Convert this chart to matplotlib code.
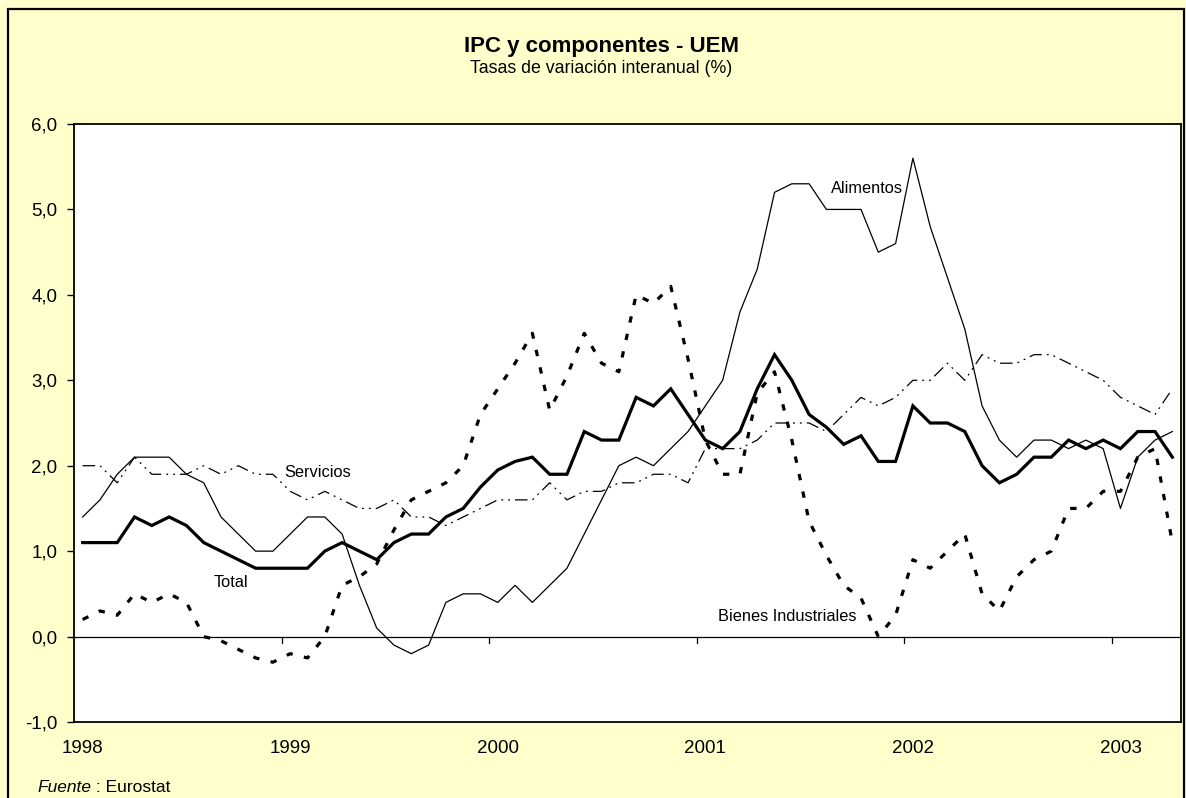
import numpy as np
import matplotlib
matplotlib.use("Agg")
import matplotlib.pyplot as plt
from matplotlib.patches import Rectangle

plt.rcParams['font.family'] = ['Liberation Sans', 'DejaVu Sans']

# datos mensuales, ene-1998 a abr-2003
years = ["1998", "1999", "2000", "2001", "2002", "2003"]

total = [1.1, 1.1, 1.1, 1.4, 1.3, 1.4, 1.3, 1.1, 1.0, 0.9, 0.8, 0.8,
         0.8, 0.8, 1.0, 1.1, 1.0, 0.9, 1.1, 1.2, 1.2, 1.4, 1.5, 1.75,
         1.95, 2.05, 2.1, 1.9, 1.9, 2.4, 2.3, 2.3, 2.8, 2.7, 2.9, 2.6,
         2.3, 2.2, 2.4, 2.9, 3.3, 3.0, 2.6, 2.45, 2.25, 2.35, 2.05, 2.05,
         2.7, 2.5, 2.5, 2.4, 2.0, 1.8, 1.9, 2.1, 2.1, 2.3, 2.2, 2.3,
         2.2, 2.4, 2.4, 2.1]

alimentos = [1.4, 1.6, 1.9, 2.1, 2.1, 2.1, 1.9, 1.8, 1.4, 1.2, 1.0, 1.0,
             1.2, 1.4, 1.4, 1.2, 0.6, 0.1, -0.1, -0.2, -0.1, 0.4, 0.5, 0.5,
             0.4, 0.6, 0.4, 0.6, 0.8, 1.2, 1.6, 2.0, 2.1, 2.0, 2.2, 2.4,
             2.7, 3.0, 3.8, 4.3, 5.2, 5.3, 5.3, 5.0, 5.0, 5.0, 4.5, 4.6,
             5.6, 4.8, 4.2, 3.6, 2.7, 2.3, 2.1, 2.3, 2.3, 2.2, 2.3, 2.2,
             1.5, 2.1, 2.3, 2.4]

servicios = [2.0, 2.0, 1.8, 2.1, 1.9, 1.9, 1.9, 2.0, 1.9, 2.0, 1.9, 1.9,
             1.7, 1.6, 1.7, 1.6, 1.5, 1.5, 1.6, 1.4, 1.4, 1.3, 1.4, 1.5,
             1.6, 1.6, 1.6, 1.8, 1.6, 1.7, 1.7, 1.8, 1.8, 1.9, 1.9, 1.8,
             2.2, 2.2, 2.2, 2.3, 2.5, 2.5, 2.5, 2.4, 2.6, 2.8, 2.7, 2.8,
             3.0, 3.0, 3.2, 3.0, 3.3, 3.2, 3.2, 3.3, 3.3, 3.2, 3.1, 3.0,
             2.8, 2.7, 2.6, 2.9]

bienes = [0.2, 0.3, 0.25, 0.5, 0.4, 0.5, 0.4, 0.0, -0.05, -0.15, -0.25, -0.3,
          -0.2, -0.25, 0.0, 0.6, 0.7, 0.85, 1.25, 1.6, 1.7, 1.8, 2.0, 2.6,
          2.9, 3.2, 3.55, 2.65, 3.05, 3.55, 3.2, 3.1, 4.0, 3.9, 4.1, 3.25,
          2.3, 1.9, 1.9, 2.85, 3.1, 2.3, 1.35, 0.95, 0.6, 0.45, 0.0, 0.25,
          0.9, 0.8, 1.0, 1.2, 0.5, 0.3, 0.7, 0.9, 1.0, 1.5, 1.5, 1.7,
          1.7, 2.1, 2.2, 1.1]

W, H = 1186, 798
fig = plt.figure(figsize=(W / 100, H / 100), dpi=100)
fig.patch.set_facecolor('#FFFFCC')

# marco exterior del grafico
fig.patches.append(Rectangle((8 / W, 1 - 806 / H), 1176 / W, 797 / H,
                             transform=fig.transFigure, fill=False,
                             edgecolor='black', linewidth=1.6))

ax = fig.add_axes([74 / W, 1 - 722 / H, 1107 / W, 598 / H])
ax.set_facecolor('white')

x = np.arange(len(total))
ax.plot(x, alimentos, color='black', lw=0.9)
ax.plot(x, servicios, color='black', lw=0.9,
        linestyle=(0, (10, 4, 1.5, 4, 1.5, 4)))
ax.plot(x, bienes, color='black', lw=2.3, linestyle=(0, (2.0, 3.6)))
ax.plot(x, total, color='black', lw=2.3, solid_joinstyle='miter')

ax.axhline(0, color='black', lw=0.9)

# marcas del eje de categorias sobre la linea de cero
for k in range(1, len(years)):
    ax.plot([12 * k - 0.5] * 2, [0, -0.075], color='black', lw=0.9,
            clip_on=False)

ax.set_xlim(-0.5, len(total) - 0.5)
ax.set_ylim(-1, 6)

ax.set_xticks(np.arange(len(years)) * 12)
ax.set_xticklabels(years)
ax.tick_params(axis='x', length=0, pad=13, labelsize=13.5)

yt = np.arange(-1, 7)
ax.set_yticks(yt)
ax.set_yticklabels([f"{v:.1f}".replace('.', ',') for v in yt])
ax.tick_params(axis='y', length=5, width=1, pad=7, labelsize=13.5)

for s in ax.spines.values():
    s.set_linewidth(1.3)

ax.text(11.64, 1.92, "Servicios", fontsize=11.8, va='center', ha='left')
ax.text(7.6, 0.63, "Total", fontsize=11.8, va='center', ha='left')
ax.text(43.26, 5.24, "Alimentos", fontsize=11.8, va='center', ha='left')
ax.text(36.73, 0.23, "Bienes Industriales", fontsize=11.8, va='center',
        ha='left')

fig.text(601 / W, 1 - 52 / H, "IPC y componentes - UEM", fontsize=16,
         fontweight='bold', ha='center', va='baseline')
fig.text(601 / W, 1 - 73 / H, "Tasas de variación interanual (%)",
         fontsize=12.8, ha='center', va='baseline')

fuente = fig.text(37 / W, 1 - 792 / H, "Fuente", fontsize=12.5,
                  style='italic', ha='left', va='baseline')
fig.canvas.draw()
bb = fuente.get_window_extent()
fig.text(bb.x1 / W, 1 - 792 / H, " : Eurostat", fontsize=12.5,
         ha='left', va='baseline')

fig.savefig("out.png", dpi=100, facecolor=fig.get_facecolor())
